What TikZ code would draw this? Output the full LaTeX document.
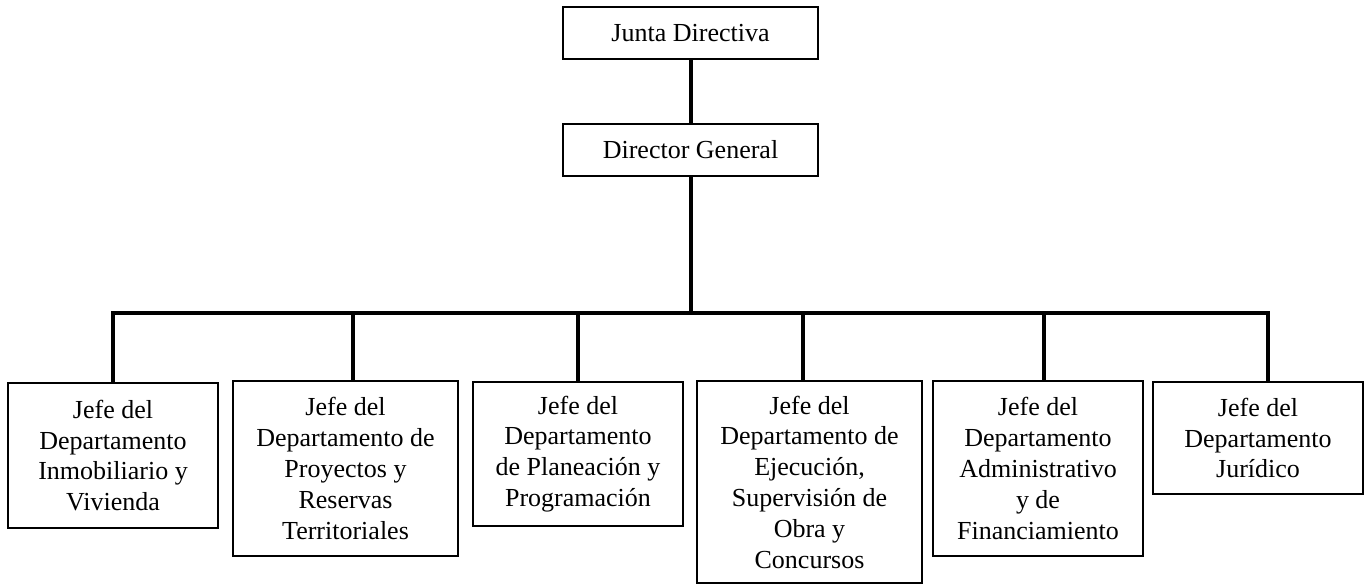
\documentclass[tikz,border=0pt]{standalone}
\usepackage{fontspec}
\setmainfont{Liberation Serif}
\begin{document}
\begin{tikzpicture}[x=0.5pt,y=-0.5pt,
		orgbox/.style={draw,line width=0.6pt,align=center,inner sep=0pt,
		font=\fontsize{13}{15.4}\selectfont},
		tie/.style={line width=2pt}
		]
		\useasboundingbox (0,0) rectangle (1368,586);
		
		\node[orgbox, minimum width=127.5pt, minimum height=26pt](JD) at (690.5,33){Junta Directiva};
		\node[orgbox, minimum width=127.5pt, minimum height=26pt](DG) at (690.5,150){Director General};
		
		\node[orgbox, minimum width=105pt, minimum height=72.5pt](S1) at (113,455.5){Jefe del\\Departamento\\Inmobiliario y\\Vivienda};
		\node[orgbox, minimum width=112.5pt, minimum height=87.5pt](S2) at (345.5,468.5){Jefe del\\Departamento de\\Proyectos y\\Reservas\\Territoriales};
		\node[orgbox, minimum width=105pt, minimum height=72pt](S3) at (578,454){Jefe del\\Departamento\\de Planeación y\\Programación};
		\node[orgbox, minimum width=112.5pt, minimum height=101pt](S4) at (809.5,482){Jefe del\\Departamento de\\Ejecución,\\Supervisión de\\Obra y\\Concursos};
		\node[orgbox, minimum width=105pt, minimum height=87.5pt](S5) at (1038,468.5){Jefe del\\Departamento\\Administrativo\\y de\\Financiamiento};
		\node[orgbox, minimum width=105pt, minimum height=56pt](S6) at (1258,438){Jefe del\\Departamento\\Jurídico};
		
		% bus
		\coordinate (T0) at (691,313);
		\coordinate (T1) at (113,313);
		\coordinate (T2) at (353,313);
		\coordinate (T3) at (578,313);
		\coordinate (T4) at (803,313);
		\coordinate (T5) at (1044,313);
		\coordinate (T6) at (1268,313);
		
		\draw[tie] (JD) -- (DG);
		\draw[tie] (DG.south -| T0) -- (T0);
		\draw[tie] (T1 |- S1.north) -- (T1) -- (T6) -- (T6 |- S6.north);
		\draw[tie] (T2) -- (T2 |- S2.north);
		\draw[tie] (T3) -- (T3 |- S3.north);
		\draw[tie] (T4) -- (T4 |- S4.north);
		\draw[tie] (T5) -- (T5 |- S5.north);
	\end{tikzpicture}
\end{document}
